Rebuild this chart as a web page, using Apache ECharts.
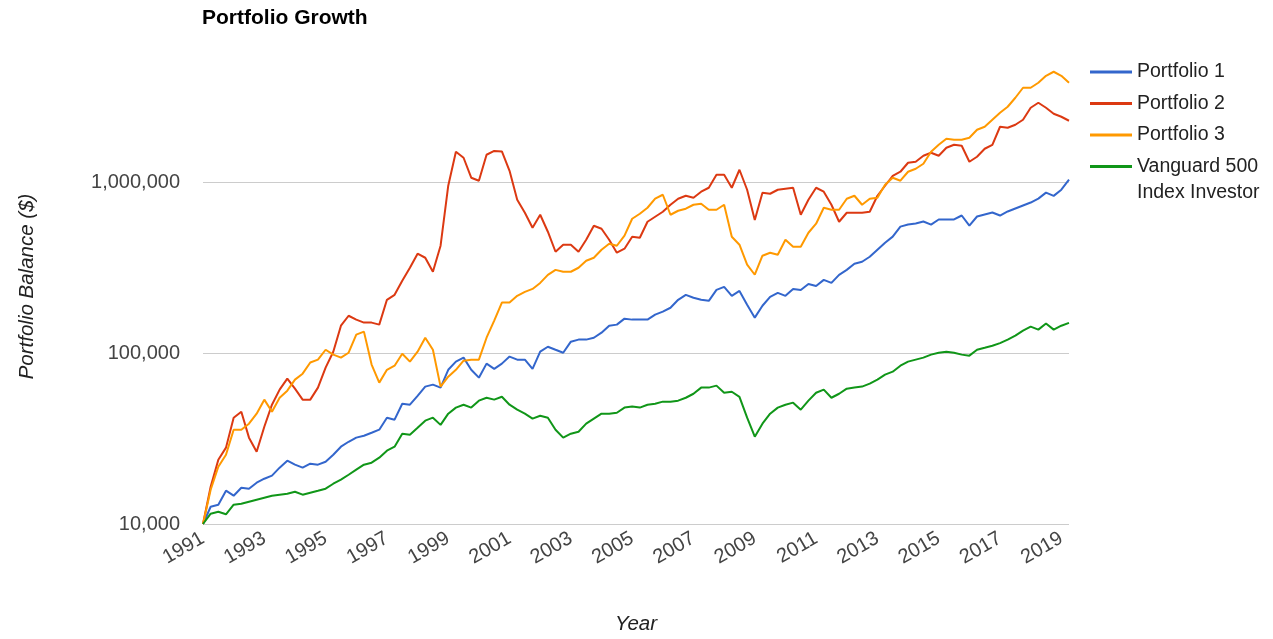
<!DOCTYPE html>
<html>
<head>
<meta charset="utf-8">
<script src="https://cdn.jsdelivr.net/npm/echarts@6/dist/echarts.min.js"></script>
<style>
  html, body { margin: 0; padding: 0; background: #fff; overflow: hidden; }
  #chart { width: 1273px; height: 639px; }
</style>
</head>
<body>
<div id="chart"></div>
<script>
// Quarterly observation dates (YYYY-MM)
const quarters = [
  '1991-01','1991-04','1991-07','1991-10','1992-01','1992-04','1992-07','1992-10',
  '1993-01','1993-04','1993-07','1993-10','1994-01','1994-04','1994-07','1994-10',
  '1995-01','1995-04','1995-07','1995-10','1996-01','1996-04','1996-07','1996-10',
  '1997-01','1997-04','1997-07','1997-10','1998-01','1998-04','1998-07','1998-10',
  '1999-01','1999-04','1999-07','1999-10','2000-01','2000-04','2000-07','2000-10',
  '2001-01','2001-04','2001-07','2001-10','2002-01','2002-04','2002-07','2002-10',
  '2003-01','2003-04','2003-07','2003-10','2004-01','2004-04','2004-07','2004-10',
  '2005-01','2005-04','2005-07','2005-10','2006-01','2006-04','2006-07','2006-10',
  '2007-01','2007-04','2007-07','2007-10','2008-01','2008-04','2008-07','2008-10',
  '2009-01','2009-04','2009-07','2009-10','2010-01','2010-04','2010-07','2010-10',
  '2011-01','2011-04','2011-07','2011-10','2012-01','2012-04','2012-07','2012-10',
  '2013-01','2013-04','2013-07','2013-10','2014-01','2014-04','2014-07','2014-10',
  '2015-01','2015-04','2015-07','2015-10','2016-01','2016-04','2016-07','2016-10',
  '2017-01','2017-04','2017-07','2017-10','2018-01','2018-04','2018-07','2018-10',
  '2019-01','2019-04'
];

const seriesNames = ['Portfolio 1', 'Portfolio 2', 'Portfolio 3', 'Vanguard 500 Index Investor'];

const portfolio1 = [
  10000, 12620, 12970, 15660, 14640, 16300, 16090, 17440,
  18400, 19170, 21350, 23450, 22230, 21350, 22530, 22230,
  23130, 25430, 28320, 30260, 31990, 32840, 34180, 35610,
  41860, 40760, 50540, 49860, 56210, 63610, 65350, 62760,
  79780, 89050, 93980, 79780, 71760, 86690, 80860, 86690,
  95290, 91480, 91480, 80860, 101800, 108800, 104500, 100400,
  116500, 119800, 119800, 122900, 131500, 144500, 146600, 158900,
  156800, 156800, 156800, 167800, 174600, 184000, 204800, 218900,
  210400, 204800, 202000, 233900, 243500, 216000, 230700, 191600,
  161000, 189000, 213100, 224700, 216000, 237100, 233900, 253500,
  246800, 267700, 257000, 286600, 306500, 332400, 341700, 365600,
  402000, 442000, 479400, 548800, 564100, 571800, 587700, 564100,
  604100, 604100, 604100, 637200, 556400, 628600, 646100, 664000,
  637200, 673000, 700500, 729100, 758800, 800200, 866800, 830000,
  902400, 1032000
];

const portfolio2 = [
  10000, 16520, 23770, 27970, 41860, 45360, 31990, 26450,
  37070, 49860, 61060, 70830, 61880, 53370, 53370, 62760,
  82080, 101800, 144500, 165200, 156800, 150600, 150600, 146600,
  204800, 218900, 264700, 315300, 380800, 360800, 298800, 424100,
  951400, 1504000, 1387000, 1060000, 1018000, 1444000, 1520000, 1510000,
  1164000, 788200, 661300, 540000, 643700, 512200, 391200, 429900,
  429900, 391200, 459900, 555200, 533200, 459900, 386100, 407400,
  478700, 472300, 585900, 626600, 670200, 736600, 799000, 831600,
  809600, 877700, 926100, 1103000, 1103000, 926100, 1180000, 901500,
  600000, 865900, 854200, 901500, 913800, 926100, 643700, 788200,
  926100, 877700, 736600, 585900, 661300, 661300, 661300, 670200,
  831600, 951400, 1088000, 1149000, 1297000, 1314000, 1425000, 1484000,
  1425000, 1587000, 1652000, 1630000, 1314000, 1406000, 1566000, 1652000,
  2106000, 2077000, 2163000, 2314000, 2720000, 2909000, 2720000, 2508000,
  2409000, 2283000
];

const portfolio3 = [
  10000, 15870, 21630, 25430, 35610, 35610, 38620, 44190,
  53370, 45360, 54750, 60250, 69860, 75710, 88040, 91480,
  104500, 97860, 93980, 100400, 128000, 133400, 85610, 67130,
  79780, 84340, 99060, 89050, 101800, 122900, 104500, 63610,
  72750, 79780, 90250, 91480, 91480, 122900, 154700, 197200,
  197200, 216000, 227700, 237100, 257000, 286600, 306500, 298800,
  298800, 315300, 346400, 360800, 402000, 436100, 424100, 485900,
  610000, 652500, 707600, 799000, 842600, 643700, 679400, 698200,
  736600, 746500, 688700, 688700, 736600, 478700, 429900, 328400,
  287000, 370700, 386100, 375700, 459900, 418400, 418400, 505300,
  570500, 707600, 688700, 688700, 799000, 831600, 736600, 799000,
  809600, 964300, 1060000, 1018000, 1149000, 1196000, 1279000, 1504000,
  1652000, 1792000, 1768000, 1768000, 1816000, 2022000, 2106000, 2314000,
  2543000, 2757000, 3112000, 3561000, 3561000, 3808000, 4184000, 4416000,
  4184000, 3808000
];

const vanguard500 = [
  10000, 11490, 11800, 11400, 12970, 13140, 13500, 13870,
  14250, 14640, 14840, 15040, 15450, 14840, 15250, 15660,
  16090, 17200, 18160, 19420, 20780, 22230, 22830, 24430,
  26840, 28320, 33760, 33300, 36570, 40220, 41860, 38000,
  44190, 47950, 49860, 47950, 52650, 54750, 53370, 55460,
  49860, 46640, 44190, 41310, 42970, 41860, 35610, 31990,
  33760, 34650, 38620, 41310, 44190, 44190, 44750, 47950,
  48600, 47950, 49860, 50540, 51950, 51950, 52650, 54750,
  57790, 62760, 62760, 64470, 58570, 59370, 55460, 41860,
  32420, 38620, 44190, 47950, 49860, 51260, 46640, 52650,
  58570, 61060, 54750, 57790, 61880, 62760, 63610, 66240,
  69860, 74700, 77800, 84340, 89050, 91480, 93980, 97860,
  100400, 101800, 100400, 97860, 96540, 104500, 107300, 110200,
  114300, 119800, 126300, 135200, 142600, 137000, 148700, 137000,
  144500, 150000
];

const yTickValues = [10000, 100000, 1000000];
const xRange = [1991, 2019.25];
const seriesColors = ['#3366cc', '#dc3912', '#ff9900', '#109618'];

const FONT = '"Liberation Sans", Arial, sans-serif';

function toYear(s) {
  const [y, m] = s.split('-').map(Number);
  return y + (m - 1) / 12;
}
const xs = quarters.map(toYear);
const allValues = [portfolio1, portfolio2, portfolio3, vanguard500];

const chart = echarts.init(document.getElementById('chart'), null, { renderer: 'canvas', width: 1273, height: 639 });

chart.setOption({
  animation: false,
  backgroundColor: '#ffffff',
  color: seriesColors,
  title: {
    text: 'Portfolio Growth',
    left: 197,
    top: 3,
    textStyle: { fontFamily: FONT, fontSize: 21, fontWeight: 'bold', color: '#000000' }
  },
  legend: {
    orient: 'vertical',
    left: 1085,
    top: 56,
    itemWidth: 42,
    itemHeight: 3,
    itemGap: 9.5,
    icon: 'rect',
    data: seriesNames,
    formatter: name => name === 'Vanguard 500 Index Investor' ? 'Vanguard 500' : name,
    textStyle: { fontFamily: FONT, fontSize: 19.5, color: '#222222', lineHeight: 22 }
  },
  graphic: [{
    type: 'text',
    left: 1137,
    top: 183,
    style: { text: 'Index Investor', font: '19.5px ' + FONT, fill: '#222222' }
  }],
  grid: { left: 203, right: 204, top: 49, bottom: 115, containLabel: false, outerBoundsMode: 'none' },
  xAxis: {
    type: 'value',
    min: xRange[0],
    max: xRange[1],
    interval: 2,
    name: 'Year',
    nameLocation: 'middle',
    nameGap: 90,
    nameTextStyle: { fontFamily: FONT, fontSize: 20.5, fontStyle: 'italic', color: '#222222' },
    axisLine: { show: false },
    axisTick: { show: false },
    splitLine: { show: false },
    axisLabel: {
      rotate: 30,
      margin: 13,
      showMaxLabel: false,
      fontFamily: FONT,
      fontSize: 20,
      color: '#444444',
      formatter: v => Number.isInteger(v) ? String(v) : ''
    }
  },
  yAxis: {
    type: 'log',
    logBase: 10,
    min: 10000,
    max: 6000000,
    name: 'Portfolio Balance ($)',
    nameLocation: 'middle',
    nameGap: 166,
    nameTextStyle: { fontFamily: FONT, fontSize: 20.5, fontStyle: 'italic', color: '#222222' },
    axisLine: { show: false },
    axisTick: { show: false },
    splitLine: { show: true, showMaxLine: false, lineStyle: { color: '#cccccc', width: 1 } },
    axisLabel: {
      margin: 23,
      showMaxLabel: false,
      fontFamily: FONT,
      fontSize: 20,
      color: '#444444',
      formatter: v => {
        const hit = yTickValues.find(t => Math.abs(t - v) / t < 1e-6);
        return hit ? hit.toLocaleString('en-US') : '';
      }
    }
  },
  series: seriesNames.map((name, i) => ({
    name: name,
    type: 'line',
    showSymbol: false,
    symbol: 'none',
    smooth: false,
    lineStyle: { width: 2, color: seriesColors[i] },
    itemStyle: { color: seriesColors[i] },
    data: xs.map((x, k) => [x, allValues[i][k]])
  }))
});
</script>
</body>
</html>
